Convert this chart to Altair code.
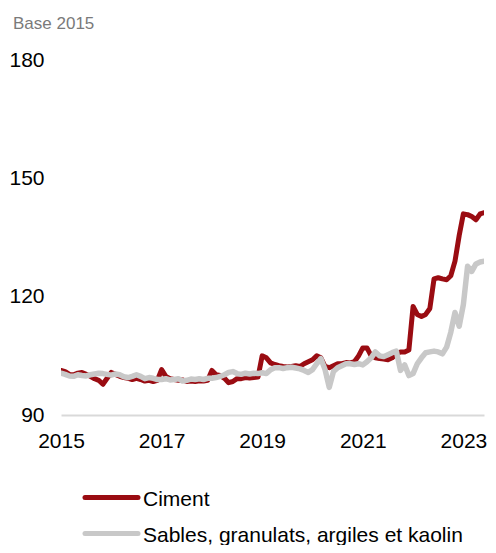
import altair as alt
import pandas as pd

# ---- data (monthly indices, base 2015) ----
series_names = ["Ciment", "Sables, granulats, argiles et kaolin"]
series_colors = ["#9a0c12", "#c8c8c8"]
start_year = 2015

ciment = [
    101.3, 101.0, 100.3, 100.2, 100.6, 100.8, 100.3, 99.8, 99.2, 98.8, 97.8, 99.3,
    100.8, 100.3, 99.8, 99.5, 99.3, 99.0, 99.3, 99.0, 98.6, 98.8, 98.5, 98.8,
    101.5, 99.8, 99.2, 99.0, 98.8, 98.9, 98.5, 98.6, 98.5, 98.7, 98.6, 98.8,
    101.3, 100.2, 100.0, 99.3, 98.2, 98.5, 99.2, 99.2, 99.5, 99.4, 99.5, 99.6,
    105.0, 104.5, 103.2, 102.8, 102.5, 102.3, 102.2, 102.3, 102.5, 102.3, 103.0, 103.5,
    104.0, 105.0, 104.5, 102.3, 102.0, 102.5, 103.0, 103.0, 103.3, 103.2, 103.5, 105.0,
    107.0, 107.0, 105.0, 104.5, 104.3, 104.2, 104.0, 104.5, 105.5, 106.0, 106.0, 106.5,
    117.5, 115.5, 115.0, 115.5, 117.0, 124.5, 124.8, 124.5, 124.3, 125.3, 129.0, 135.5,
    141.0, 140.8, 140.3, 139.5, 141.0, 141.3, 141.6, 141.4,
]

sables = [
    100.6, 100.3, 99.9, 99.8, 100.2, 100.0, 99.9, 100.2, 100.4, 100.6, 100.5, 100.3,
    100.1, 100.4, 100.2, 99.7, 99.5, 99.8, 100.2, 99.8, 99.2, 99.5, 99.3, 99.0,
    99.0, 99.2, 98.9, 99.0, 99.2, 98.6, 98.8, 99.1, 99.0, 99.2, 99.0, 99.3,
    99.3, 99.5, 99.8, 100.2, 100.8, 101.0, 100.5, 100.3, 100.6, 100.4, 100.6, 100.5,
    100.7, 100.5, 101.5, 102.0, 102.0, 101.8, 102.0, 102.1, 101.9, 101.7, 101.3, 100.8,
    101.5, 103.0, 104.3, 101.5, 97.0, 101.0, 102.0, 102.5, 103.0, 103.0, 102.8, 103.0,
    102.7, 103.5, 104.5, 106.0, 105.0, 104.8, 105.3, 105.8, 106.2, 101.3, 102.7, 100.0,
    100.5, 103.0, 104.5, 105.8, 106.0, 106.2, 106.0, 105.5, 107.2, 111.0, 116.0, 112.5,
    118.0, 127.7, 126.4, 128.3, 128.8, 129.0, 128.7, 127.7,
]

y_ticks = [90, 120, 150, 180]
x_ticks = [2015, 2017, 2019, 2021, 2023]
subtitle = "Base 2015"

FONT = "Liberation Sans"


def frame(values, name):
    return pd.DataFrame({
        "t": [start_year + i / 12 for i in range(len(values))],
        "v": values,
        "serie": name,
    })


x_scale = alt.Scale(domain=[2015, 2023.41], nice=False, zero=False)
y_scale = alt.Scale(domain=[90, 180], nice=False, zero=False)

x_enc = alt.X("t:Q", scale=x_scale, axis=alt.Axis(
    values=x_ticks, format="d", title=None, grid=False, ticks=False,
    domain=True, domainColor="#d9d9d9", domainWidth=2,
    labelFontSize=21, labelColor="#000000", labelPadding=15,
    labelFlush=False, labelOverlap=False, labelFont=FONT))
y_enc = alt.Y("v:Q", scale=y_scale, axis=alt.Axis(
    values=y_ticks, title=None, grid=False, ticks=False, domain=False,
    labelFontSize=21, labelColor="#000000", labelPadding=17,
    labelFont=FONT))

layers = []
for vals, name, col, sw in [(ciment, series_names[0], series_colors[0], 5),
                            (sables, series_names[1], series_colors[1], 5.5)]:
    layers.append(
        alt.Chart(frame(vals, name)).mark_line(
            color=col, strokeWidth=sw, clip=True, strokeJoin="round", strokeCap="round"
        ).encode(x=x_enc, y=y_enc)
    )

# manual legend below the plot
one = pd.DataFrame({"k": [0]})
legend_rows = [437.5, 473.5]
for name, col, yy in zip(series_names, series_colors, legend_rows):
    layers.append(
        alt.Chart(one).mark_rule(color=col, strokeWidth=5, strokeCap="round").encode(
            x=alt.value(24), x2=alt.value(77), y=alt.value(yy))
    )
    layers.append(
        alt.Chart(one).mark_text(align="left", baseline="alphabetic", fontSize=21,
                                 font=FONT, color="#000000").encode(
            x=alt.value(82), y=alt.value(yy + 8.5), text=alt.value(name))
    )

# top-left unit label
layers.append(
    alt.Chart(one).mark_text(align="left", baseline="alphabetic", fontSize=17,
                             font=FONT, color="#7a7a7a").encode(
        x=alt.value(-48), y=alt.value(-31), text=alt.value(subtitle))
)

chart = alt.layer(*layers).properties(
    width=423, height=355,
    padding={"left": 53, "top": 52, "right": 4, "bottom": 130},
    autosize=alt.AutoSizeParams(type="none"),
).configure(font=FONT).configure_view(stroke=None)

chart.save("out.html", embed_options={"renderer": "svg", "actions": False})
